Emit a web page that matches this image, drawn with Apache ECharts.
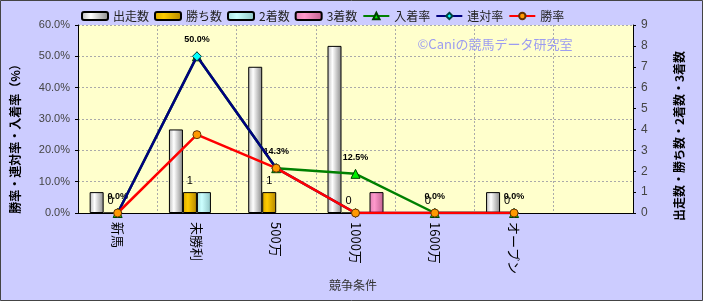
<!DOCTYPE html>
<html>
<head>
<meta charset="utf-8">
<script src="https://cdn.jsdelivr.net/npm/echarts@6/dist/echarts.min.js"></script>
<style>
html,body{margin:0;padding:0;background:#CCCCFF;}
#c{width:703px;height:301px;}
</style>
</head>
<body>
<div id="c"></div>
<script>
const categories = ['新馬', '未勝利', '500万', '1000万', '1600万', 'オープン', ''];
const starts = [1, 4, 7, 8, 0, 1, null];
const wins = [0, 1, 1, 0, 0, 0, null];
const seconds = [null, 1, null, null, null, null, null];
const thirds = [null, null, null, 1, null, null, null];
const placeRate = [0, 50.0, 14.3, 12.5, 0, 0, null];
const rentaiRate = [0, 50.0, 14.3, 0, 0, 0, null];
const winRate = [0, 25.0, 14.3, 0, 0, 0, null];

const FONT = "'Liberation Sans','Noto Sans CJK JP',sans-serif";
const JFONT = "'Noto Sans CJK JP','Liberation Sans',sans-serif";

function grad(edge, mid, dark) {
  return new echarts.graphic.LinearGradient(0, 0, 1, 0, [
    {offset: 0, color: edge},
    {offset: 0.35, color: mid},
    {offset: 1, color: dark}
  ]);
}

const chart = echarts.init(document.getElementById('c'), null, {renderer: 'canvas'});
const barStyle = (c) => ({color: c, borderColor: '#000', borderWidth: 1});
const option = {
  animation: false,
  backgroundColor: '#CCCCFF',
  textStyle: {fontFamily: FONT},
  legend: {
    left: 81, top: 10, padding: 0,
    itemWidth: 26, itemHeight: 8, itemGap: 5,
    textStyle: {fontSize: 12, color: '#222', fontFamily: JFONT},
    data: [
      {name: '出走数', icon: 'roundRect'},
      {name: '勝ち数', icon: 'roundRect'},
      {name: '2着数', icon: 'roundRect'},
      {name: '3着数', icon: 'roundRect'},
      '入着率', '連対率', '勝率'
    ]
  },
  grid: {left: 78, right: 70, top: 25, bottom: 88, show: true, backgroundColor: '#FFFFCC', borderWidth: 0},
  xAxis: {
    type: 'category', data: categories, boundaryGap: true,
    axisLine: {lineStyle: {color: '#000', width: 1}},
    axisTick: {show: false},
    axisLabel: {rotate: -90, color: '#000', fontSize: 13, fontFamily: JFONT, margin: 9},
    splitLine: {show: true, interval: 0, lineStyle: {color: '#aaa', type: [2, 2]}}
  },
  yAxis: [
    {
      type: 'value', min: 0, max: 60, interval: 10,
      name: '勝率・連対率・入着率（%）', nameLocation: 'middle', nameRotate: 90, nameGap: 57,
      nameTextStyle: {color: '#000', fontSize: 12, fontWeight: 'bold', fontFamily: JFONT, padding: [0, 34, 0, 0]},
      axisLine: {show: true, lineStyle: {color: '#000'}},
      axisTick: {show: true, length: 3, lineStyle: {color: '#000'}},
      axisLabel: {formatter: v => v.toFixed(1) + '%', color: '#444', fontSize: 11, margin: 8},
      splitLine: {show: true, lineStyle: {color: '#aaa', type: [2, 2]}}
    },
    {
      type: 'value', min: 0, max: 9, interval: 1,
      name: '出走数・勝ち数・2着数・3着数', nameLocation: 'middle', nameRotate: 90, nameGap: 40,
      nameTextStyle: {color: '#000', fontSize: 12, fontWeight: 'bold', fontFamily: JFONT, padding: [0, 34, 0, 0]},
      axisLine: {show: true, lineStyle: {color: '#000'}},
      axisTick: {show: true, length: 3, lineStyle: {color: '#000'}},
      axisLabel: {color: '#444', fontSize: 12, margin: 8},
      splitLine: {show: false}
    }
  ],
  graphic: [
    {type: 'text', x: 495, y: 44, z: 1, style: {text: '©Caniの競馬データ研究室', fill: '#9c9cf0', font: "13px " + JFONT, align: 'center', verticalAlign: 'middle'}},
    {type: 'text', x: 353, y: 285, style: {text: '競争条件', fill: '#333', font: "12px " + JFONT, align: 'center', verticalAlign: 'middle'}},
    {type: 'rect', shape: {x: 0.5, y: 0.5, width: 702, height: 300}, style: {fill: 'none', stroke: '#444', lineWidth: 1}, z: 100}
  ],
  series: [
    {name: '出走数', type: 'bar', yAxisIndex: 1, data: starts, barWidth: 14, barGap: '0%',
      itemStyle: barStyle(grad('#b8b8b8', '#ffffff', '#8a8a8a'))},
    {name: '勝ち数', type: 'bar', yAxisIndex: 1, data: wins, barWidth: 14, barGap: '0%',
      itemStyle: barStyle(grad('#d9a800', '#ffcc00', '#b38600')),
      label: {show: true, position: 'top', distance: 6, color: '#000', fontSize: 11, fontFamily: FONT}},
    {name: '2着数', type: 'bar', yAxisIndex: 1, data: seconds, barWidth: 14, barGap: '0%',
      itemStyle: barStyle(grad('#a8dede', '#ccffff', '#8ec4c4'))},
    {name: '3着数', type: 'bar', yAxisIndex: 1, data: thirds, barWidth: 14, barGap: '0%',
      itemStyle: barStyle(grad('#e083b3', '#ff99cc', '#c06090'))},
    {name: '入着率', type: 'line', yAxisIndex: 0, data: placeRate, z: 3,
      lineStyle: {color: '#008000', width: 2.5},
      itemStyle: {color: '#00ee00', borderColor: '#004000', borderWidth: 1},
      symbol: 'triangle', symbolSize: 9, showAllSymbol: true,
      label: {show: true, position: 'top', distance: 7, formatter: p => p.value.toFixed(1) + '%', color: '#000', fontSize: 9, fontWeight: 'bold', fontFamily: FONT}},
    {name: '連対率', type: 'line', yAxisIndex: 0, data: rentaiRate, z: 4,
      lineStyle: {color: '#000080', width: 2.5},
      itemStyle: {color: '#00ffff', borderColor: '#004040', borderWidth: 1},
      symbol: 'diamond', symbolSize: 9, showAllSymbol: true},
    {name: '勝率', type: 'line', yAxisIndex: 0, data: winRate, z: 5,
      lineStyle: {color: '#ff0000', width: 2.5},
      itemStyle: {color: '#ff9900', borderColor: '#663300', borderWidth: 1},
      symbol: 'circle', symbolSize: 8, showAllSymbol: true}
  ]
};
chart.setOption(option);
</script>
</body>
</html>
